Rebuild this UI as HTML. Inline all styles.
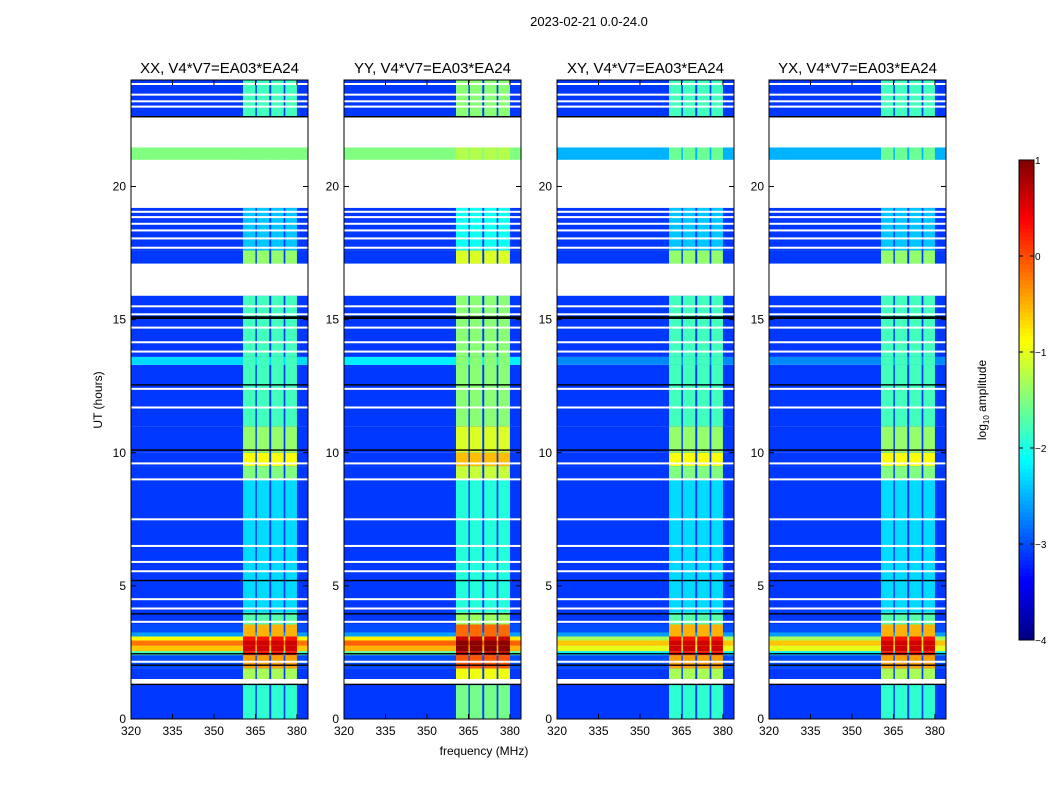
<!DOCTYPE html>
<html><head><meta charset="utf-8"><style>
body{margin:0;background:#fff;width:1050px;height:800px;overflow:hidden;font-family:"Liberation Sans",sans-serif;}
svg text{font-family:"Liberation Sans",sans-serif;}
</style></head><body>
<svg id="fig" width="1050" height="800" xmlns="http://www.w3.org/2000/svg">
<text x="589" y="26" font-size="13" text-anchor="middle">2023-02-21 0.0-24.0</text>
<text x="484" y="755" font-size="12" text-anchor="middle">frequency (MHz)</text>
<text transform="translate(102,400) rotate(-90)" font-size="12" text-anchor="middle">UT (hours)</text>
<g id="panels"></g>
<g id="cbar"></g>
<text transform="translate(986,400) rotate(-90)" font-size="12" text-anchor="middle">log<tspan font-size="8" dy="3">10</tspan><tspan dy="-3"> amplitude</tspan></text>
</svg>
<script>
const panelTitles=["XX, V4*V7=EA03*EA24","YY, V4*V7=EA03*EA24","XY, V4*V7=EA03*EA24","YX, V4*V7=EA03*EA24"];
const panelLeft=[131,344,557,769];
const freqTicks=[320,335,350,365,380];
const timeTicks=[0,5,10,15,20];
const cbarTicks=[1,0,-1,-2,-3,-4];
// time segments: start hour, end hour, background log amp, band log amp
const segStart=[0,1.5,1.9,2.4,2.55,2.75,2.95,3.1,3.25,3.55,4.0,9.0,9.5,10.0,11.0,13.3,13.6,17.1,17.6,21.0,22.6];
const segEnd  =[1.3,1.9,2.4,2.55,2.75,2.95,3.1,3.25,3.55,4.0,9.0,9.5,10.0,11.0,13.3,13.6,15.9,17.6,19.2,21.47,24];
const segBg   =[-3.1,-3.1,-3.0,-1.8,-0.6,-0.2,-0.9,-2.6,-3.0,-3.1,-3.1,-3.1,-3.1,-3.1,-3.1,-2.3,-3.1,-3.1,-3.1,-1.5,-3.1];
const segBand =[-1.9,-1.3,-0.4,0.3,0.6,0.6,0.3,-0.5,-0.5,-1.7,-2.3,-1.5,-0.9,-1.4,-1.8,-1.8,-1.8,-1.4,-2.4,-1.6,-1.8];
const bandLo=[360.5,365.5,370.7,375.8];
const bandHi=[365,370,375.2,380];
const bandOffset=[0,0.35,0,0];
const broadOffset=[0,0.1,-0.4,-0.4];
const nearFlagOffset=[0,0,-1.0,-1.0];
const flagStart=[15.9,19.2,21.47];
const flagEnd=[17.1,21.0,22.6];
const whiteLines=[1.42,2.15,3.65,4.15,4.5,5.55,5.9,6.5,7.5,9.0,9.6,11.7,12.4,13.8,14.15,14.7,15.2,15.5,17.7,18.05,18.35,18.6,18.85,19.05,23.0,23.2,23.45,23.85];
const blackLines=[1.3,2.02,2.45,3.95,5.2,10.1,12.55,15.05,15.1,22.62];
const fmin=320,fmax=384,tmin=0,tmax=24;
const plotTop=80,plotBot=719,pw=177;
const NS="http://www.w3.org/2000/svg";
function ty(t){return plotBot-(t-tmin)/(tmax-tmin)*(plotBot-plotTop);}
function jet(v){v=Math.max(-4,Math.min(1,v));const s=(v+4)/5;const c=x=>Math.round(255*Math.max(0,Math.min(1,x)));
return `rgb(${c(1.5-Math.abs(4*s-3))},${c(1.5-Math.abs(4*s-2))},${c(1.5-Math.abs(4*s-1))})`;}
function mk(tag,attrs,parent){const e=document.createElementNS(NS,tag);for(const k in attrs)e.setAttribute(k,attrs[k]);parent.appendChild(e);return e;}
const P=document.getElementById('panels');
panelTitles.forEach((title,p)=>{
 const L=panelLeft[p];
 const fx=f=>L+(f-fmin)/(fmax-fmin)*pw;
 const g=mk('g',{},P);
 
 
 segStart.forEach((s,i)=>{
  let bg=segBg[i];
  if(s===21.0) bg+=nearFlagOffset[p];
  else if(bg>-2.5) bg+=broadOffset[p];
  const r=mk('rect',{x:L,y:ty(segEnd[i]),width:pw,height:ty(s)-ty(segEnd[i]),fill:jet(bg)},g);
  
  
  bandLo.forEach((lo,j)=>{
   const b=mk('rect',{x:fx(lo),y:ty(segEnd[i]),width:fx(bandHi[j])-fx(lo),height:ty(s)-ty(segEnd[i]),fill:jet(Math.max(bg,segBand[i]+bandOffset[p]))},g);
   
   
  });
 });
 flagStart.forEach((s,i)=>{const r=mk('rect',{x:L,y:ty(flagEnd[i]),width:pw,height:ty(s)-ty(flagEnd[i]),fill:'#fff'},g);
  
  });
 mk('rect',{x:L,y:ty(1.5),width:pw,height:ty(1.3)-ty(1.5),fill:'#fff'},g);
 whiteLines.forEach(t=>{const r=mk('rect',{x:L,y:ty(t)-1,width:pw,height:2,fill:'#fff'},g);
  
  });
 blackLines.forEach(t=>{const r=mk('rect',{x:L,y:ty(t)-0.7,width:pw,height:1.4,fill:'#000'},g);
  
  });
 mk('rect',{x:L,y:plotTop,width:pw,height:plotBot-plotTop,fill:'none',stroke:'#000','stroke-width':1},g);
 const tt=mk('text',{x:L+pw/2,y:73,'font-size':15,'text-anchor':'middle'},g);tt.textContent=title;
 
 
 freqTicks.forEach(f=>{
  mk('line',{x1:fx(f),x2:fx(f),y1:plotBot,y2:plotBot-5,stroke:'#000'},g);
  mk('line',{x1:fx(f),x2:fx(f),y1:plotTop,y2:plotTop+5,stroke:'#000'},g);
  const t=mk('text',{x:fx(f),y:plotBot+16,'font-size':12,'text-anchor':'middle'},g);t.textContent=f;
  
  
 });
 timeTicks.forEach(h=>{
  mk('line',{x1:L,x2:L+5,y1:ty(h),y2:ty(h),stroke:'#000'},g);
  mk('line',{x1:L+pw,x2:L+pw-5,y1:ty(h),y2:ty(h),stroke:'#000'},g);
  const t=mk('text',{x:L-5,y:ty(h)+4,'font-size':12,'text-anchor':'end'},g);t.textContent=h;
  
  
 });
});
const C=document.getElementById('cbar');
const cx=1019,cw=15,ct=160,cb=640;
for(let i=0;i<120;i++){const v=-4+5*(i+0.5)/120;mk('rect',{x:cx,y:cb-(i+1)*(cb-ct)/120,width:cw,height:(cb-ct)/120+0.5,fill:jet(v)},C);}
mk('rect',{x:cx,y:ct,width:cw,height:cb-ct,fill:'none',stroke:'#000'},C);
cbarTicks.forEach(v=>{const yy=cb-(v+4)/5*(cb-ct);
 mk('line',{x1:cx+cw-4,x2:cx+cw,y1:yy,y2:yy,stroke:'#000'},C);
 mk('line',{x1:cx,x2:cx+4,y1:yy,y2:yy,stroke:'#000'},C);
 const t=mk('text',{x:cx+cw-2,y:yy+4,'font-size':10,'text-anchor':'start',dx:3},C);t.textContent=(v<0?'\u2212'+(-v):v);
 
 
});
</script>
</body></html>
